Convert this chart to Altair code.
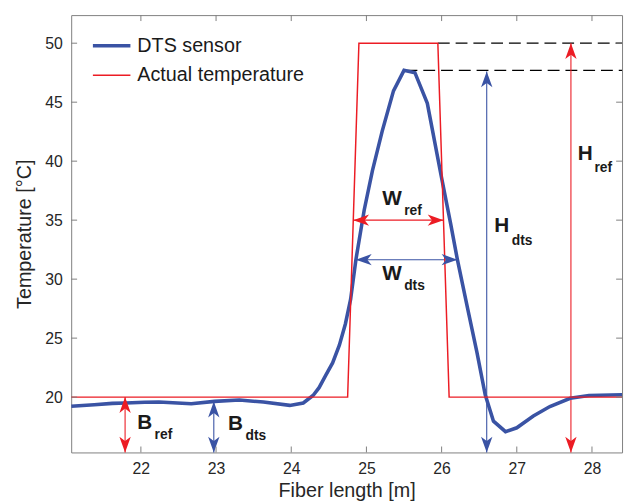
import altair as alt
import pandas as pd

# ---------------- data ----------------
X_MIN, X_MAX = 21.073, 28.40
Y_MIN, Y_MAX = 15.31, 52.38

series_names = ["DTS sensor", "Actual temperature"]
BLUE = "#3a53a4"
RED = "#ec1c24"

dts_x = [21.073, 21.38, 21.62, 21.80, 22.05, 22.24, 22.67, 22.98, 23.31, 23.63,
         23.98, 24.16, 24.29, 24.37, 24.46, 24.55, 24.64, 24.72, 24.79, 24.86,
         24.97, 25.08, 25.21, 25.36, 25.50, 25.645, 25.81, 25.99, 26.12, 26.21,
         26.34, 26.47, 26.58, 26.69, 26.85, 27.00, 27.22, 27.44, 27.71, 27.96, 28.40]
dts_y = [19.22, 19.35, 19.47, 19.5, 19.56, 19.58, 19.44, 19.64, 19.75, 19.58,
         19.3, 19.5, 20.14, 20.8, 21.87, 22.9, 24.4, 26.2, 28.3, 31.65,
         35.84, 39.2, 42.55, 45.96, 47.7, 47.5, 44.9, 38.9, 34.7, 31.65,
         27.7, 23.8, 20.2, 17.96, 17.07, 17.4, 18.4, 19.2, 19.9, 20.14, 20.2]

ref_x = [21.073, 24.75, 24.90, 25.95, 26.10, 28.40]
ref_y = [20, 20, 50, 50, 20, 20]

x_ticks = [22, 23, 24, 25, 26, 27, 28]
y_ticks = [20, 25, 30, 35, 40, 45, 50]

# dashed reference levels: (x start, y level)
dash_x = [25.95, 25.52]
dash_y = [50.0, 47.7]

# vertical double arrows: x, y top tip, y bottom tip, colour
varr_x = [21.79, 22.97, 26.60, 27.72]
varr_top = [20.0, 19.62, 47.6, 50.0]
varr_bot = [Y_MIN, Y_MIN, Y_MIN, Y_MIN]
varr_col = [RED, BLUE, BLUE, RED]

# horizontal double arrows: y, x left tip, x right tip, colour
harr_y = [35.0, 31.65]
harr_left = [24.825, 24.86]
harr_right = [26.025, 26.21]
harr_col = [RED, BLUE]

# labels: main letter and subscript
lab_main = ["W", "W", "H", "H", "B", "B"]
lab_main_x = [25.34, 25.34, 26.80, 27.91, 22.05, 23.26]
lab_main_y = [36.8, 30.4, 34.5, 40.58, 17.82, 17.74]
lab_sub = ["ref", "dts", "dts", "ref", "ref", "dts"]
lab_sub_x = [25.62, 25.64, 27.07, 28.15, 22.30, 23.53]
lab_sub_y = [35.76, 29.4, 33.24, 39.45, 16.8, 16.69]

# ---------------- build ----------------
W, H = 558, 443
FONT = "Liberation Sans"
xs = alt.Scale(domain=[X_MIN, X_MAX], nice=False, zero=False)
ys = alt.Scale(domain=[Y_MIN, Y_MAX], nice=False, zero=False)

lines_df = pd.DataFrame({
    "x": dts_x + ref_x,
    "y": dts_y + ref_y,
    "series": [series_names[0]] * len(dts_x) + [series_names[1]] * len(ref_x),
    "ord": list(range(len(dts_x))) + list(range(len(ref_x))),
})

leg = alt.Legend(title=None, orient="none", legendX=20, legendY=10,
                 symbolType="stroke", symbolSize=1444, labelFontSize=20,
                 labelColor="#1a1a1a", labelFont=FONT, rowPadding=-4,
                 labelOffset=5, padding=0, labelLimit=400)

lines = alt.Chart(lines_df).mark_line(clip=True).encode(
    x=alt.X("x:Q", scale=xs, axis=alt.Axis(values=x_ticks, title="Fiber length [m]",
                                           format="d", labelPadding=8, titlePadding=5)),
    y=alt.Y("y:Q", scale=ys, axis=alt.Axis(values=y_ticks, title="Temperature [°C]",
                                           format="d", labelPadding=9, titlePadding=10)),
    color=alt.Color("series:N", scale=alt.Scale(domain=series_names, range=[BLUE, RED]),
                    legend=leg),
    strokeWidth=alt.StrokeWidth("series:N",
                                scale=alt.Scale(domain=series_names, range=[3.6, 1.5]),
                                legend=leg),
    order="ord:Q",
)

# inward ticks
xt_df = pd.DataFrame({"t": x_ticks})
yt_df = pd.DataFrame({"t": y_ticks})
TK = "#7f7f7f"
tick_b = alt.Chart(xt_df).mark_rule(color=TK, strokeWidth=1).encode(
    x=alt.X("t:Q", scale=xs), y=alt.value(H), y2=alt.value(H - 6))
tick_t = alt.Chart(xt_df).mark_rule(color=TK, strokeWidth=1).encode(
    x=alt.X("t:Q", scale=xs), y=alt.value(0), y2=alt.value(6))
tick_l = alt.Chart(yt_df).mark_rule(color=TK, strokeWidth=1).encode(
    y=alt.Y("t:Q", scale=ys), x=alt.value(0), x2=alt.value(6))
tick_r = alt.Chart(yt_df).mark_rule(color=TK, strokeWidth=1).encode(
    y=alt.Y("t:Q", scale=ys), x=alt.value(W), x2=alt.value(W - 6))

# dashed lines
dash_df = pd.DataFrame({"x": dash_x, "y": dash_y, "x2": [X_MAX] * len(dash_x)})
dashes = alt.Chart(dash_df).mark_rule(color="#000000", strokeWidth=1.3,
                                      strokeDash=[12, 6]).encode(
    x=alt.X("x:Q", scale=xs), x2="x2:Q", y=alt.Y("y:Q", scale=ys))

# arrows
v_df = pd.DataFrame({"x": varr_x, "yt": varr_top, "yb": varr_bot, "c": varr_col})
h_df = pd.DataFrame({"y": harr_y, "xl": harr_left, "xr": harr_right, "c": harr_col})
vrules = alt.Chart(v_df).mark_rule(strokeWidth=1.1).encode(
    x=alt.X("x:Q", scale=xs), y=alt.Y("yt:Q", scale=ys), y2="yb:Q",
    color=alt.Color("c:N", scale=None))
hrules = alt.Chart(h_df).mark_rule(strokeWidth=1.1).encode(
    y=alt.Y("y:Q", scale=ys), x=alt.X("xl:Q", scale=xs), x2="xr:Q",
    color=alt.Color("c:N", scale=None))

UP = "M0,-1L0.72,1L0,0.45L-0.72,1Z"
DOWN = "M0,1L0.72,-1L0,-0.45L-0.72,-1Z"
LEFT = "M-1,0L1,0.72L0.45,0L1,-0.72Z"
RIGHT = "M1,0L-1,0.72L-0.45,0L-1,-0.72Z"
HS = 256
U = 8

def head(df, xf, yf, shape, xo=0, yo=0):
    return alt.Chart(df).mark_point(shape=shape, filled=True, size=HS, opacity=1,
                                    strokeWidth=0, xOffset=xo, yOffset=yo,
                                    clip=False).encode(
        x=alt.X(xf, scale=xs), y=alt.Y(yf, scale=ys),
        fill=alt.Color("c:N", scale=None))

h_up = head(v_df, "x:Q", "yt:Q", UP, yo=U)
h_down = head(v_df, "x:Q", "yb:Q", DOWN, yo=-U)
h_left = head(h_df, "xl:Q", "y:Q", LEFT, xo=U)
h_right = head(h_df, "xr:Q", "y:Q", RIGHT, xo=-U)

# labels
main_df = pd.DataFrame({"x": lab_main_x, "y": lab_main_y, "t": lab_main})
sub_df = pd.DataFrame({"x": lab_sub_x, "y": lab_sub_y, "t": lab_sub})
t_main = alt.Chart(main_df).mark_text(font=FONT, fontSize=21, fontWeight="bold",
                                      color="#1a1a1a", align="center",
                                      baseline="middle").encode(
    x=alt.X("x:Q", scale=xs), y=alt.Y("y:Q", scale=ys), text="t:N")
t_sub = alt.Chart(sub_df).mark_text(font=FONT, fontSize=14, fontWeight="bold",
                                    color="#1a1a1a", align="center",
                                    baseline="middle").encode(
    x=alt.X("x:Q", scale=xs), y=alt.Y("y:Q", scale=ys), text="t:N")

chart = alt.layer(
    dashes, vrules, hrules, lines, h_up, h_down, h_left, h_right,
    t_main, t_sub, tick_b, tick_t, tick_l, tick_r,
).properties(
    width=W, height=H,
    autosize=alt.AutoSizeParams(type="none"),
    padding={"left": 64, "top": 4, "right": 4, "bottom": 48},
).configure(
    font=FONT,
).configure_view(
    stroke="#7f7f7f", strokeWidth=1,
).configure_axis(
    domain=False, ticks=False, grid=False,
    labelFont=FONT, labelFontSize=16, labelColor="#262626",
    titleFont=FONT, titleFontSize=20, titleFontWeight="normal", titleColor="#262626",
)

chart.save("out.html", embed_options={"renderer": "svg", "actions": False})
